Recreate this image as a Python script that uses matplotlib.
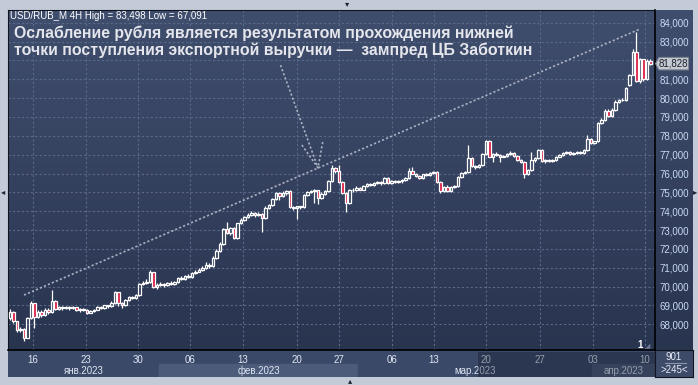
import numpy as np
import matplotlib.pyplot as plt
from matplotlib.colors import to_rgb
from matplotlib.patches import Rectangle, Polygon

W, H = 698, 385

# 4H candles, USD/RUB, mid-Jan .. 10 Apr 2023
bar_open = [68330, 68650, 68150, 67700, 67750, 67280, 68350, 69130, 68400, 68650,
            68500, 68750, 68650, 69250, 68800, 68900, 68850, 68900, 68870, 68900,
            68750, 68800, 68780, 68620, 68700, 68780, 68900, 68850, 69000, 68950,
            69150, 69700, 69150, 69000, 69300, 69450, 69400, 69550, 70150, 70200,
            70250, 70750, 70000, 70100, 70150, 70100, 70200, 70150, 70250, 70450,
            70400, 70550, 70500, 70700, 70800, 70900, 71000, 71150, 71100, 71500,
            71900, 72250, 73050, 72850, 73100, 72580, 73350, 73550, 73700, 73800,
            73900, 73800, 73850, 73650, 74150, 74350, 74650, 74950, 74800, 74950,
            75050, 74200, 74150, 74250, 74200, 74850, 75000, 75050, 75100, 74700,
            74900, 75050, 75600, 76300, 76150, 75550, 74950, 74450, 75150, 75100,
            75250, 75150, 75350, 75450, 75400, 75500, 75550, 75500, 75750, 75500,
            75600, 75550, 75600, 75650, 75750, 76150, 76000, 75850, 75750, 75950,
            75900, 76050, 76100, 75550, 75050, 75300, 75050, 75300, 75350, 75800,
            76050, 76100, 76800, 76400, 76350, 76450, 77050, 77750, 76900, 77050,
            77000, 76900, 76950, 77050, 77100, 76950, 76700, 76600, 75950, 76200,
            76700, 76800, 77250, 76650, 76700, 76650, 76700, 76900, 77000, 77100,
            77150, 77050, 77100, 77150, 77100, 77250, 77850, 77600, 77700, 78700,
            78850, 79300, 79050, 79350, 79800, 79900, 79920, 80700, 81250, 82450,
            80900, 82050, 81000, 81950]
bar_high = [68800, 68700, 68200, 67850, 67800, 68400, 69250, 69150, 68750, 68750,
            68850, 68850, 69800, 69300, 68950, 68950, 68980, 68950, 68950, 68920,
            68850, 68850, 68800, 68750, 68820, 68950, 68950, 69050, 69050, 69250,
            69750, 69720, 69200, 69350, 69500, 69500, 69600, 70200, 70300, 70400,
            70900, 70800, 70200, 70250, 70200, 70250, 70300, 70300, 70500, 70550,
            70600, 70650, 70750, 70900, 71000, 71100, 71300, 71250, 71600, 72000,
            72350, 73100, 73430, 73150, 73150, 73400, 73650, 73750, 73900, 74000,
            73950, 73950, 73900, 74250, 74400, 74700, 75000, 75000, 75050, 75100,
            75100, 74300, 74300, 74300, 74900, 75050, 75150, 75200, 75150, 75000,
            75100, 75650, 76450, 76350, 76450, 75600, 75000, 75200, 75250, 75350,
            75300, 75400, 75500, 75500, 75550, 75600, 75600, 75800, 75800, 75650,
            75650, 75650, 75700, 75800, 76300, 76350, 76050, 75900, 76000, 76050,
            76100, 76150, 76150, 75600, 75350, 75400, 75350, 75400, 75850, 76100,
            76150, 77500, 76850, 76450, 76500, 77100, 77800, 77800, 77100, 77150,
            77050, 77000, 77100, 77200, 77150, 77000, 76750, 76650, 76250, 77150,
            76850, 77300, 77300, 76750, 76750, 76750, 76950, 77050, 77150, 77200,
            77200, 77150, 77200, 77200, 77300, 78050, 77900, 77750, 78750, 78950,
            79400, 79400, 79450, 79900, 79950, 80000, 80600, 81300, 82600, 83498,
            82150, 82100, 82050, 82050]
bar_low = [68250, 68050, 67600, 67600, 67091, 67250, 68300, 67800, 68350, 68400,
           68450, 68550, 68600, 68750, 68750, 68780, 68800, 68780, 68800, 68700,
           68650, 68700, 68560, 68580, 68650, 68750, 68800, 68820, 68880, 68900,
           69100, 68950, 68850, 68950, 69250, 69350, 69350, 69500, 70100, 70150,
           70200, 69950, 69850, 70050, 70000, 70050, 70080, 70100, 70200, 70350,
           70350, 70450, 70450, 70650, 70750, 70850, 70950, 71000, 71050, 71450,
           71850, 72200, 72800, 72750, 72500, 72550, 73300, 73500, 73650, 73750,
           73700, 73750, 72900, 73600, 74100, 74300, 74600, 74600, 74750, 74850,
           74150, 74050, 73600, 74100, 74150, 74800, 74950, 74450, 74400, 74650,
           74850, 75000, 75550, 76050, 75500, 74900, 73958, 74400, 75000, 75050,
           75100, 75100, 75300, 75350, 75350, 75450, 75400, 75450, 75450, 75450,
           75500, 75500, 75500, 75600, 75700, 75950, 75800, 75700, 75700, 75850,
           75850, 76000, 75500, 74950, 75000, 75000, 75000, 75250, 75300, 75750,
           76000, 76050, 76350, 76250, 76300, 76400, 77000, 76850, 76600, 76950,
           76600, 76850, 76900, 77000, 76900, 76650, 76550, 75750, 75900, 76150,
           76600, 76750, 76600, 76550, 76600, 76600, 76650, 76850, 76950, 77050,
           77000, 77000, 77050, 77050, 77050, 77200, 77550, 77550, 77650, 78650,
           78800, 79000, 79000, 79300, 79750, 79850, 79850, 80650, 81200, 80850,
           80800, 80900, 80950, 81750]
bar_close = [68650, 68150, 67700, 67750, 67280, 68350, 69130, 68400, 68650, 68500,
             68750, 68650, 69250, 68800, 68900, 68850, 68900, 68870, 68900, 68750,
             68800, 68780, 68620, 68700, 68780, 68900, 68850, 69000, 68950, 69150,
             69700, 69150, 69000, 69300, 69450, 69400, 69550, 70150, 70200, 70250,
             70750, 70000, 70100, 70150, 70100, 70200, 70150, 70250, 70450, 70400,
             70550, 70500, 70700, 70800, 70900, 71000, 71150, 71100, 71500, 71900,
             72250, 73050, 72850, 73100, 72580, 73350, 73550, 73700, 73800, 73900,
             73800, 73850, 73650, 74150, 74350, 74650, 74950, 74800, 74950, 75050,
             74200, 74150, 74250, 74200, 74850, 75000, 75050, 75100, 74700, 74900,
             75050, 75600, 76300, 76150, 75550, 74950, 74450, 75150, 75100, 75250,
             75150, 75350, 75450, 75400, 75500, 75550, 75500, 75750, 75500, 75600,
             75550, 75600, 75650, 75750, 76150, 76000, 75850, 75750, 75950, 75900,
             76050, 76100, 75550, 75050, 75300, 75050, 75300, 75350, 75800, 76050,
             76100, 76800, 76400, 76350, 76450, 77050, 77750, 76900, 77050, 77000,
             76900, 76950, 77050, 77100, 76950, 76700, 76600, 75950, 76200, 76700,
             76800, 77250, 76650, 76700, 76650, 76700, 76900, 77000, 77100, 77150,
             77050, 77100, 77150, 77100, 77250, 77850, 77600, 77700, 78700, 78850,
             79300, 79050, 79350, 79800, 79900, 79920, 80550, 81250, 82450, 80900,
             82050, 81000, 81950, 81828]

# date axis (positions in bar units)
date_ticks = [6.6, 21.7, 36.6, 51.4, 66.6, 82.0, 94.0, 109.1, 121.1, 136.0, 151.4, 166.6, 181.4]
date_labels = ['16', '23', '30', '06', '13', '20', '27', '06', '13', '20', '27', '03', '10']
month_edges = [-0.57, 42.6, 99.4, 166.3, 184.29]
month_labels = ['янв.2023', 'фев.2023', 'мар.2023', 'апр.2023']
price_ticks = list(range(68000, 84001, 1000))
x_range = (-0.57, 184.29)
y_range = (66637, 84674)

trend_x = [4.0, 180.0]
trend_y = [69554, 83666]
pointer_x = [77.3, 88.0]
pointer_y = [81750, 76300]
head_x = [83.4, 88.0, 89.4]
head_y = [77510, 76300, 77720]

last_price = 81828
header = 'USD/RUB_M 4H High = 83,498 Low = 67,091'
caption = ['Ослабление рубля является результатом прохождения нижней',
           'точки поступления экспортной выручки —  зампред ЦБ Заботкин']

plt.rcParams['font.family'] = ['Liberation Sans', 'DejaVu Sans']

fig = plt.figure(figsize=(W / 100, H / 100), dpi=100, facecolor='#c3cbd9')


def panel(x0, y0, x1, y1):
    return fig.add_axes([x0 / W, 1 - y1 / H, (x1 - x0) / W, (y1 - y0) / H])


def gradient(ax, top='#404e6e', bottom='#29344f'):
    c0, c1 = np.array(to_rgb(top)), np.array(to_rgb(bottom))
    t = np.linspace(0, 1, 256)[:, None]
    img = (c0 * (1 - t) + c1 * t)[:, None, :]
    ax.imshow(img, extent=[0, 1, 0, 1], transform=ax.transAxes,
              aspect='auto', zorder=0, interpolation='bilinear')


# right price panel background
rax = panel(655, 10, 693, 350)
gradient(rax)
rax.axis('off')

# bottom date strip
bax = panel(8, 350, 655, 377)
bax.set_xlim(x_range)
bax.set_ylim(0, 27)
bax.axis('off')
bax.add_patch(Rectangle((x_range[0], 13), x_range[1] - x_range[0], 14, color='#3b4968'))
for k, lab in enumerate(month_labels):
    a, b = month_edges[k], month_edges[k + 1]
    bax.add_patch(Rectangle((a, 0), b - a, 13.5, color=['#3b4968', '#4c5b7a'][k % 2]))
    bax.text((a + b) / 2, 6.5, lab, ha='center', va='center', fontsize=7, color='#dfe7f3')

# corner box
cax = panel(655, 350, 693, 377)
cax.set_facecolor('#3d4a68')
cax.set_xlim(0, 38)
cax.set_ylim(0, 27)
cax.set_xticks([])
cax.set_yticks([])
for s in cax.spines.values():
    s.set_color('#10151f')
cax.text(19, 20, '901', ha='center', va='center', fontsize=7, color='#e8eef8')
cax.plot([10, 31], [14, 14], color='#8c96aa', lw=0.8)
cax.text(19, 7, '>245<', ha='center', va='center', fontsize=7, color='#e8eef8')

# main chart
ax = panel(8, 10, 655, 350)
gradient(ax)
ax.set_xlim(x_range)
ax.set_ylim(y_range)

for i in range(len(bar_close)):
    o, h, l, c = bar_open[i], bar_high[i], bar_low[i], bar_close[i]
    lo, hi = min(o, c), max(o, c)
    ax.vlines(i, l, lo, color='white', lw=0.9, zorder=3)
    ax.vlines(i, hi, h, color='white', lw=0.9, zorder=3)
    face = '#dc1a40' if c < o else 'none'
    ax.bar(i, max(hi - lo, 15), bottom=lo, width=0.62, facecolor=face,
           edgecolor='white', linewidth=0.9, zorder=4)

dots = (0, (1.3, 1.3))
ax.plot(trend_x, trend_y, color='#a9b1c2', lw=1.2, ls=dots, zorder=5)
ax.plot(pointer_x, pointer_y, color='#a9b1c2', lw=1.2, ls=dots, zorder=5, clip_on=False)
ax.plot(head_x, head_y, color='#a9b1c2', lw=1.2, ls=dots, zorder=5)

ax.set_xticks(date_ticks, date_labels)
ax.set_yticks(price_ticks, [f'{v:,}' for v in price_ticks])
ax.yaxis.tick_right()
ax.tick_params(axis='x', length=0, pad=3.5, labelsize=7, labelcolor='#dfe7f3')
ax.tick_params(axis='y', length=0, pad=3, labelsize=7, labelcolor='#c9d9f2')
ax.grid(True, color='#5a6988', lw=0.8, ls=(0, (2, 2)), zorder=1)
ax.set_axisbelow(True)
for side in ['left', 'top']:
    ax.spines[side].set_color('#10151f')
    ax.spines[side].set_linewidth(0.8)
for side in ['right', 'bottom']:
    ax.spines[side].set_color('black')
    ax.spines[side].set_linewidth(1.2)

ax.text((640 - 8) / 647, 5 / 340, '1', transform=ax.transAxes, ha='center', va='center',
        fontsize=7, color='white', weight='bold', zorder=6)
ax.text((648 - 8) / 647, 4 / 340, '◢', transform=ax.transAxes, ha='center', va='center',
        fontsize=5, color='#6c7690', family='DejaVu Sans', zorder=6)

# current price tag above the price labels
tax = panel(655, 10, 693, 350)
tax.set_xlim(0, 38)
tax.set_ylim(y_range)
tax.axis('off')
tax.patch.set_alpha(0)
tax.add_patch(Polygon([(0.6, last_price), (4, last_price + 330), (33.5, last_price + 330),
                       (33.5, last_price - 330), (4, last_price - 330)],
                      closed=True, facecolor='#c5c9d1', edgecolor='#7d8494', lw=0.8))
tax.text(18.5, last_price, f'{last_price:,}', ha='center', va='center', fontsize=7,
         color='#1b1f28')

# dimmed selection band at bottom right
fig.add_artist(Rectangle((478 / W, 8 / H), (655 - 478) / W, 25 / H, transform=fig.transFigure,
                         facecolor='#0e1424', alpha=0.35, lw=0, zorder=5))

fig.text(10 / W, 1 - 19 / H, header, fontsize=7, color='white', va='baseline')
fig.text(14 / W, 1 - 38 / H, caption[0], fontsize=11.4, weight='bold', color='#e4e6ec',
         va='baseline')
fig.text(14 / W, 1 - 55 / H, caption[1], fontsize=11.4, weight='bold', color='#e4e6ec',
         va='baseline')

for (px, py, sym) in [(347, 4, '▾'), (350, 381, '▴'), (3, 192, '◂'), (695, 192, '▸')]:
    fig.text(px / W, 1 - py / H, sym, ha='center', va='center', fontsize=6,
             color='#1c2430', family='DejaVu Sans')

fig.savefig('out.png', dpi=100, facecolor=fig.get_facecolor())
